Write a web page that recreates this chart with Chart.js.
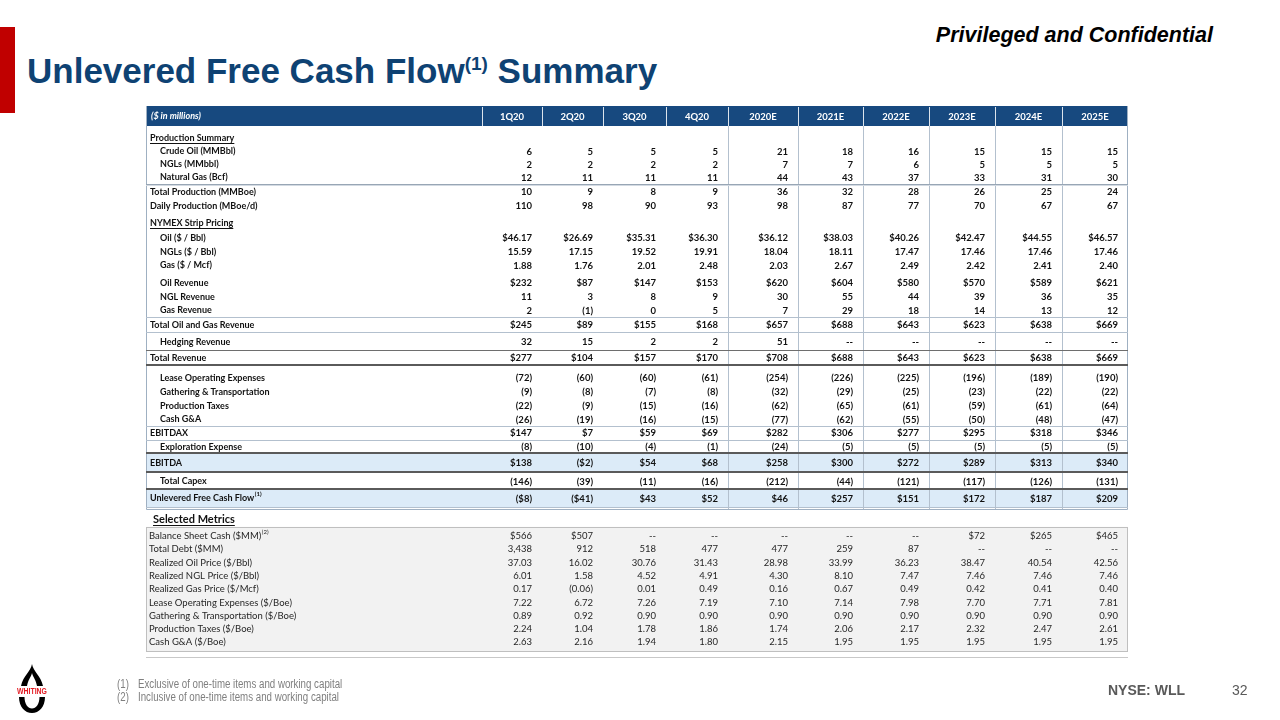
<!DOCTYPE html>
<html>
<head>
<meta charset="utf-8">
<title>Unlevered Free Cash Flow Summary</title>
<script src="https://cdn.jsdelivr.net/npm/chart.js@4.4.0/dist/chart.umd.min.js"></script>
<style>
  html, body { margin: 0; padding: 0; background: #fff; }
  body { width: 1280px; height: 720px; position: relative; overflow: hidden;
         font-family: "Liberation Sans", Arial, sans-serif; }
  #redbar { position: absolute; left: 0; top: 27px; width: 15px; height: 86px; background: #C00000; }
  #title { position: absolute; left: 27px; top: 53px; font-size: 35px; line-height: 35px; font-weight: bold;
           color: #0E4273; white-space: nowrap; }
  #title .sup { font-size: 19px; position: relative; top: -13px; }
  #conf { position: absolute; right: 67px; top: 25px; font-size: 21.5px; line-height: 21.5px; font-weight: bold;
          font-style: italic; color: #000; white-space: nowrap; }
  #tbl { position: absolute; left: 0; top: 0; }
  .note { position: absolute; font-size: 12px; line-height: 12px; color: #7F7F7F; white-space: nowrap;
          transform: scaleX(0.81); transform-origin: 0 0; }
  #ticker { position: absolute; left: 1108px; top: 683px; font-size: 14px; line-height: 14px; font-weight: bold; color: #595959; }
  #page { position: absolute; left: 1232px; top: 683px; font-size: 14px; line-height: 14px; color: #595959; }
  #logo { position: absolute; left: 16px; top: 664px; }
</style>
</head>
<body>
<div id="redbar"></div>
<div id="title">Unlevered Free Cash Flow<span class="sup">(1)</span> Summary</div>
<div id="conf">Privileged and Confidential</div>

<canvas id="tbl" width="1280" height="720"></canvas>

<svg id="logo" width="32" height="50" viewBox="0 0 32 50">
  <path d="M16 0 C15 7 7 12 5 22 L11 22 C12 16 15 13 16 9 C17 13 20 16 21 22 L27 22 C25 12 17 7 16 0 Z" fill="#000"/>
  <text x="16" y="30" text-anchor="middle" font-family="Liberation Sans, Arial" font-weight="bold"
        font-size="8.5" fill="#E31B23" textLength="30" lengthAdjust="spacingAndGlyphs">WHITING</text>
  <path d="M3 33 C3 43 9 49 16 49 C23 49 29 43 29 33 L23.5 33 C23.5 40 20 44.5 16 44.5 C12 44.5 8.5 40 8.5 33 Z" fill="#000"/>
</svg>
<div class="note" style="left:117px; top:678px;">(1)</div>
<div class="note" style="left:138px; top:678px;">Exclusive of one-time items and working capital</div>
<div class="note" style="left:117px; top:691px;">(2)</div>
<div class="note" style="left:138px; top:691px;">Inclusive of one-time items and working capital</div>
<div id="ticker">NYSE: WLL</div>
<div id="page">32</div>

<script>
// ---- data ----
const columns = ['1Q20', '2Q20', '3Q20', '4Q20', '2020E', '2021E', '2022E', '2023E', '2024E', '2025E'];

const crudeOil        = [6, 5, 5, 5, 21, 18, 16, 15, 15, 15];
const ngls            = [2, 2, 2, 2, 7, 7, 6, 5, 5, 5];
const naturalGas      = [12, 11, 11, 11, 44, 43, 37, 33, 31, 30];
const totalProduction = [10, 9, 8, 9, 36, 32, 28, 26, 25, 24];
const dailyProduction = [110, 98, 90, 93, 98, 87, 77, 70, 67, 67];

const oilPrice = [46.17, 26.69, 35.31, 36.30, 36.12, 38.03, 40.26, 42.47, 44.55, 46.57];
const nglPrice = [15.59, 17.15, 19.52, 19.91, 18.04, 18.11, 17.47, 17.46, 17.46, 17.46];
const gasPrice = [1.88, 1.76, 2.01, 2.48, 2.03, 2.67, 2.49, 2.42, 2.41, 2.40];

const oilRevenue      = [232, 87, 147, 153, 620, 604, 580, 570, 589, 621];
const nglRevenue      = [11, 3, 8, 9, 30, 55, 44, 39, 36, 35];
const gasRevenue      = [2, -1, 0, 5, 7, 29, 18, 14, 13, 12];
const totalOilGasRev  = [245, 89, 155, 168, 657, 688, 643, 623, 638, 669];
const hedgingRevenue  = [32, 15, 2, 2, 51, null, null, null, null, null];
const totalRevenue    = [277, 104, 157, 170, 708, 688, 643, 623, 638, 669];

const leaseOpex       = [-72, -60, -60, -61, -254, -226, -225, -196, -189, -190];
const gatheringTransp = [-9, -8, -7, -8, -32, -29, -25, -23, -22, -22];
const productionTaxes = [-22, -9, -15, -16, -62, -65, -61, -59, -61, -64];
const cashGA          = [-26, -19, -16, -15, -77, -62, -55, -50, -48, -47];
const ebitdax         = [147, 7, 59, 69, 282, 306, 277, 295, 318, 346];
const explorationExp  = [-8, -10, -4, -1, -24, -5, -5, -5, -5, -5];
const ebitda          = [138, -2, 54, 68, 258, 300, 272, 289, 313, 340];
const totalCapex      = [-146, -39, -11, -16, -212, -44, -121, -117, -126, -131];
const unleveredFCF    = [-8, -41, 43, 52, 46, 257, 151, 172, 187, 209];

const balanceSheetCash = [566, 507, null, null, null, null, null, 72, 265, 465];
const totalDebt        = [3438, 912, 518, 477, 477, 259, 87, null, null, null];
const realizedOil      = [37.03, 16.02, 30.76, 31.43, 28.98, 33.99, 36.23, 38.47, 40.54, 42.56];
const realizedNGL      = [6.01, 1.58, 4.52, 4.91, 4.30, 8.10, 7.47, 7.46, 7.46, 7.46];
const realizedGas      = [0.17, -0.06, 0.01, 0.49, 0.16, 0.67, 0.49, 0.42, 0.41, 0.40];
const loePerBoe        = [7.22, 6.72, 7.26, 7.19, 7.10, 7.14, 7.98, 7.70, 7.71, 7.81];
const gtPerBoe         = [0.89, 0.92, 0.90, 0.90, 0.90, 0.90, 0.90, 0.90, 0.90, 0.90];
const prodTaxPerBoe    = [2.24, 1.04, 1.78, 1.86, 1.74, 2.06, 2.17, 2.32, 2.47, 2.61];
const cashGAPerBoe     = [2.63, 2.16, 1.94, 1.80, 2.15, 1.95, 1.95, 1.95, 1.95, 1.95];

// ---- layout (widths / heights in table units) ----
const colWidths = [336, 60, 61, 63, 62, 70, 65, 66, 66, 67, 66];   // label column + 10 data columns
const VALUE_PAD = 10;

// row list: gap = space before, h = row height
const rows = [
  { kind: 'header', h: 20 },
  { label: 'Production Summary', kind: 'section', gap: 5, h: 14 },
  { label: 'Crude Oil (MMBbl)', values: crudeOil, fmt: 'int', indent: true, h: 13 },
  { label: 'NGLs (MMbbl)', values: ngls, fmt: 'int', indent: true, h: 13 },
  { label: 'Natural Gas (Bcf)', values: naturalGas, fmt: 'int', indent: true, h: 13, below: 'double' },
  { label: 'Total Production (MMBoe)', values: totalProduction, fmt: 'int', gap: 1, h: 14 },
  { label: 'Daily Production (MBoe/d)', values: dailyProduction, fmt: 'int', h: 14 },
  { label: 'NYMEX Strip Pricing', kind: 'section', gap: 3, h: 14 },
  { label: 'Oil ($ / Bbl)', values: oilPrice, fmt: '$dec', indent: true, gap: 1, h: 14 },
  { label: 'NGLs ($ / Bbl)', values: nglPrice, fmt: 'dec', indent: true, h: 14 },
  { label: 'Gas ($ / Mcf)', values: gasPrice, fmt: 'dec', indent: true, h: 13 },
  { label: 'Oil Revenue', values: oilRevenue, fmt: '$int', indent: true, gap: 4, h: 14 },
  { label: 'NGL Revenue', values: nglRevenue, fmt: 'int', indent: true, h: 14 },
  { label: 'Gas Revenue', values: gasRevenue, fmt: 'int', indent: true, h: 13, below: 'thin' },
  { label: 'Total Oil and Gas Revenue', values: totalOilGasRev, fmt: '$int', gap: 1, h: 14, below: 'thin' },
  { label: 'Hedging Revenue', values: hedgingRevenue, fmt: 'int', indent: true, gap: 2, h: 16, below: 'dark' },
  { label: 'Total Revenue', values: totalRevenue, fmt: '$int', gap: 1, h: 14, below: 'thick' },
  { label: 'Lease Operating Expenses', values: leaseOpex, fmt: 'int', indent: true, gap: 6, h: 14 },
  { label: 'Gathering & Transportation', values: gatheringTransp, fmt: 'int', indent: true, h: 14 },
  { label: 'Production Taxes', values: productionTaxes, fmt: 'int', indent: true, h: 14 },
  { label: 'Cash G&A', values: cashGA, fmt: 'int', indent: true, h: 13, below: 'thin' },
  { label: 'EBITDAX', values: ebitdax, fmt: '$int', h: 14, below: 'thin' },
  { label: 'Exploration Expense', values: explorationExp, fmt: 'int', indent: true, gap: 1, h: 12, below: 'thick' },
  { label: 'EBITDA', values: ebitda, fmt: '$int', gap: 1, h: 18, fill: true, below: 'thick' },
  { label: 'Total Capex', values: totalCapex, fmt: 'int', indent: true, gap: 2, h: 15, below: 'thick' },
  { label: 'Unlevered Free Cash Flow', sup: '(1)', values: unleveredFCF, fmt: '$int', gap: 1, h: 17, fill: true, below: 'thin' },
  { kind: 'tableEnd', gap: 2, h: 0 },
  { label: 'Selected Metrics', kind: 'metricsTitle', gap: 3, h: 14 },
  { label: 'Balance Sheet Cash ($MM)', sup: '(2)', values: balanceSheetCash, fmt: '$int', metric: true, gap: 3.3, h: 13.3 },
  { label: 'Total Debt ($MM)', values: totalDebt, fmt: 'int', metric: true, h: 13.3 },
  { label: 'Realized Oil Price ($/Bbl)', values: realizedOil, fmt: 'dec', metric: true, h: 13.3 },
  { label: 'Realized NGL Price ($/Bbl)', values: realizedNGL, fmt: 'dec', metric: true, h: 13.3 },
  { label: 'Realized Gas Price ($/Mcf)', values: realizedGas, fmt: 'dec', metric: true, h: 13.3 },
  { label: 'Lease Operating Expenses ($/Boe)', values: loePerBoe, fmt: 'dec', metric: true, h: 13.3 },
  { label: 'Gathering & Transportation ($/Boe)', values: gtPerBoe, fmt: 'dec', metric: true, h: 13.3 },
  { label: 'Production Taxes ($/Boe)', values: prodTaxPerBoe, fmt: 'dec', metric: true, h: 13.3 },
  { label: 'Cash G&A ($/Boe)', values: cashGAPerBoe, fmt: 'dec', metric: true, h: 13.3 }
];

// cumulative positions
const colEdges = [0];
colWidths.forEach(w => colEdges.push(colEdges[colEdges.length - 1] + w));
const TABLE_W = colEdges[colEdges.length - 1];
const valueX = columns.map((c, i) => colEdges[i + 2] - VALUE_PAD);

let cursor = 0;
rows.forEach(r => {
  cursor += r.gap || 0;
  r.top = cursor;
  r.mid = cursor + r.h / 2;
  cursor += r.h;
});
const TABLE_H = 554;

const C = {
  header: '#17497F',
  text: '#111111',
  metricText: '#262626',
  grid: '#B3C0CE',
  dark: '#5A5A5A',
  fill: '#DCEBF8',
  boxFill: '#F2F2F2',
  boxLine: '#BFBFBF'
};
const FONT = 'Lato, "Liberation Sans", sans-serif';

function fmtValue(v, kind) {
  if (v === null || v === undefined) return '--';
  const a = Math.abs(v);
  let s = kind.indexOf('dec') >= 0 ? a.toFixed(2) : a.toLocaleString('en-US');
  if (kind.charAt(0) === '$') s = '$' + s;
  return v < 0 ? '(' + s + ')' : s;
}

const mainRows = rows.filter(r => r.kind !== 'header');
const endRow = rows.find(r => r.kind === 'tableEnd');
const metricRows = rows.filter(r => r.metric);

const tablePlugin = {
  id: 'tableCells',
  beforeDatasetsDraw(chart) {
    const { ctx, scales: { x, y } } = chart;
    const X = v => x.getPixelForValue(v);
    const Y = v => y.getPixelForValue(v);
    const left = X(0), right = X(TABLE_W);
    const header = rows[0];
    const bodyTop = Y(header.top + header.h);
    const bodyBottom = Y(endRow.top);

    ctx.save();
    // row fills
    rows.filter(r => r.fill).forEach(r => {
      ctx.fillStyle = C.fill;
      ctx.fillRect(left, Y(r.top), right - left, Y(r.top + r.h) - Y(r.top));
    });

    // metrics box
    const mTop = Y(metricRows[0].top - 2.5);
    const mBot = Y(metricRows[metricRows.length - 1].top + metricRows[metricRows.length - 1].h + 2);
    ctx.fillStyle = C.boxFill;
    ctx.fillRect(left, mTop, right - left, mBot - mTop);
    ctx.strokeStyle = C.boxLine;
    ctx.lineWidth = 1;
    ctx.strokeRect(Math.round(left) + 0.5, Math.round(mTop) + 0.5, Math.round(right - left) - 1, Math.round(mBot - mTop));
    ctx.beginPath();
    const sep = Math.round(mBot) + 6.5;
    ctx.moveTo(left, sep); ctx.lineTo(right, sep);
    ctx.strokeStyle = '#C8C8C8';
    ctx.stroke();

    // header band
    ctx.fillStyle = C.header;
    ctx.fillRect(left, Y(header.top), right - left, Y(header.top + header.h) - Y(header.top));
    ctx.strokeStyle = 'rgba(255,255,255,0.85)';
    ctx.lineWidth = 1;
    for (let i = 1; i < colEdges.length - 1; i++) {
      const xx = Math.round(X(colEdges[i])) + 0.5;
      ctx.beginPath(); ctx.moveTo(xx, Y(header.top) + 1); ctx.lineTo(xx, Y(header.top + header.h)); ctx.stroke();
    }
    ctx.fillStyle = '#FFFFFF';
    ctx.textBaseline = 'middle';
    ctx.font = 'italic bold 9px ' + FONT;
    ctx.textAlign = 'left';
    ctx.fillText('($ in millions)', X(5), Y(header.mid));
    ctx.font = 'bold 9.5px ' + FONT;
    ctx.textAlign = 'center';
    columns.forEach((c, i) => ctx.fillText(c, X((colEdges[i + 1] + colEdges[i + 2]) / 2), Y(header.mid) + 0.5));

    // vertical grid in body (annual columns)
    ctx.strokeStyle = C.grid;
    for (let i = 5; i < colEdges.length - 1; i++) {
      const xx = Math.round(X(colEdges[i])) + 0.5;
      ctx.beginPath(); ctx.moveTo(xx, bodyTop); ctx.lineTo(xx, bodyBottom); ctx.stroke();
    }
    // outer border of main table
    ctx.strokeStyle = '#9FB0C2';
    ctx.beginPath();
    ctx.moveTo(Math.round(left) + 0.5, Y(header.top));
    ctx.lineTo(Math.round(left) + 0.5, Math.round(bodyBottom) + 0.5);
    ctx.lineTo(Math.round(right) - 0.5, Math.round(bodyBottom) + 0.5);
    ctx.lineTo(Math.round(right) - 0.5, Y(header.top));
    ctx.stroke();

    // horizontal rules
    rows.filter(r => r.below).forEach(r => {
      const yy = Y(r.top + r.h);
      ctx.beginPath();
      if (r.below === 'thick') {
        ctx.strokeStyle = C.dark; ctx.lineWidth = 2;
        ctx.moveTo(left, Math.round(yy)); ctx.lineTo(right, Math.round(yy)); ctx.stroke();
      } else if (r.below === 'dark') {
        ctx.strokeStyle = '#6E6E6E'; ctx.lineWidth = 1;
        ctx.moveTo(left, Math.round(yy) + 0.5); ctx.lineTo(right, Math.round(yy) + 0.5); ctx.stroke();
      } else if (r.below === 'double') {
        ctx.strokeStyle = '#98A6B5'; ctx.lineWidth = 1;
        ctx.moveTo(left, Math.round(yy) + 0.5); ctx.lineTo(right, Math.round(yy) + 0.5); ctx.stroke();
        ctx.beginPath(); ctx.strokeStyle = '#D3DAE2';
        ctx.moveTo(left, Math.round(yy) + 1.5); ctx.lineTo(right, Math.round(yy) + 1.5); ctx.stroke();
      } else {
        ctx.strokeStyle = C.grid; ctx.lineWidth = 1;
        ctx.moveTo(left, Math.round(yy) + 0.5); ctx.lineTo(right, Math.round(yy) + 0.5); ctx.stroke();
      }
    });

    // row labels
    ctx.textAlign = 'left';
    ctx.textBaseline = 'middle';
    mainRows.forEach(r => {
      if (!r.label) return;
      let font, color = C.text, lx = r.indent ? 14 : 4;
      if (r.kind === 'metricsTitle') { font = 'bold 11px ' + FONT; lx = 7; }
      else if (r.metric) { font = '9.5px ' + FONT; color = C.metricText; lx = 3; }
      else font = 'bold 9px ' + FONT;
      ctx.font = font;
      ctx.fillStyle = color;
      const tx = X(lx), ty = Y(r.mid);
      ctx.fillText(r.label, tx, ty);
      const w = ctx.measureText(r.label).width;
      if (r.kind === 'section' || r.kind === 'metricsTitle') {
        ctx.fillRect(tx, Math.round(ty + (r.kind === 'section' ? 5 : 6)), w, 1);
      }
      if (r.sup) {
        ctx.font = (r.metric ? '' : 'bold ') + '6px ' + FONT;
        ctx.fillText(r.sup, tx + w + 0.5, ty - 4);
      }
    });
    ctx.restore();
  },
  afterDatasetsDraw(chart) {
    const { ctx } = chart;
    ctx.save();
    ctx.textAlign = 'right';
    ctx.textBaseline = 'middle';
    chart.data.datasets.forEach((ds, i) => {
      const meta = chart.getDatasetMeta(i);
      ctx.font = ds.metric ? '9.5px ' + FONT : 'bold 9.5px ' + FONT;
      ctx.fillStyle = ds.metric ? C.metricText : C.text;
      meta.data.forEach((pt, j) => {
        ctx.fillText(fmtValue(ds.data[j].v, ds.fmt), pt.x, pt.y);
      });
    });
    ctx.restore();
  }
};

const datasets = rows.filter(r => r.values).map(r => ({
  label: r.label,
  fmt: r.fmt,
  metric: !!r.metric,
  data: r.values.map((v, i) => ({ x: valueX[i], y: r.mid, v: v })),
  pointRadius: 0,
  showLine: false
}));

new Chart(document.getElementById('tbl'), {
  type: 'scatter',
  data: { datasets },
  options: {
    responsive: false,
    animation: false,
    devicePixelRatio: 1,
    events: [],
    layout: { padding: { left: 146, right: 1280 - 146 - TABLE_W, top: 106, bottom: 720 - 106 - TABLE_H } },
    plugins: { legend: { display: false }, tooltip: { enabled: false } },
    scales: {
      x: { type: 'linear', min: 0, max: TABLE_W, display: false },
      y: { type: 'linear', min: 0, max: TABLE_H, reverse: true, display: false }
    }
  },
  plugins: [tablePlugin]
});
</script>
</body>
</html>
